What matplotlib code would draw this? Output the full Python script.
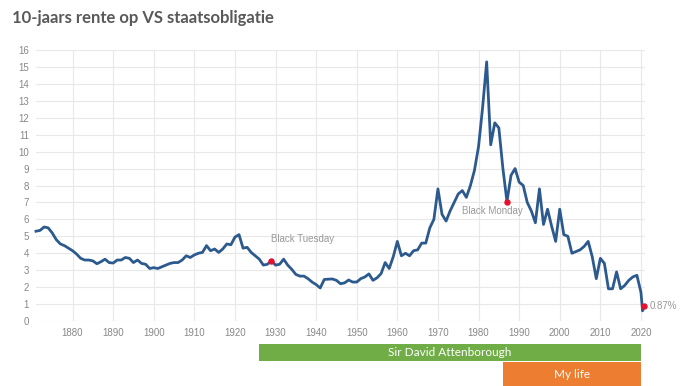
import matplotlib
matplotlib.use("Agg")
import matplotlib.pyplot as plt
import numpy as np

# 10-year US treasury yield, yearly values
years = list(range(1871, 2021)) + [2020.4, 2020.8]
rates = [
    5.3, 5.35, 5.55, 5.5, 5.2, 4.8, 4.55, 4.45, 4.3, 4.15,        # 1871-1880
    3.95, 3.7, 3.6, 3.6, 3.55, 3.38, 3.5, 3.65, 3.45, 3.42,       # 1881-1890
    3.6, 3.6, 3.75, 3.7, 3.45, 3.6, 3.4, 3.35, 3.1, 3.15,         # 1891-1900
    3.1, 3.2, 3.3, 3.4, 3.45, 3.45, 3.6, 3.85, 3.75, 3.9,         # 1901-1910
    4.0, 4.05, 4.45, 4.15, 4.25, 4.05, 4.25, 4.55, 4.5, 4.95,     # 1911-1920
    5.1, 4.3, 4.35, 4.05, 3.85, 3.65, 3.3, 3.35, 3.56, 3.3,       # 1921-1930
    3.35, 3.65, 3.3, 3.05, 2.75, 2.65, 2.65, 2.5, 2.3, 2.15,      # 1931-1940
    1.95, 2.45, 2.47, 2.48, 2.4, 2.2, 2.25, 2.42, 2.3, 2.3,       # 1941-1950
    2.5, 2.6, 2.78, 2.4, 2.55, 2.8, 3.45, 3.1, 3.8, 4.7,          # 1951-1960
    3.85, 4.0, 3.85, 4.15, 4.2, 4.6, 4.6, 5.5, 6.0, 7.8,          # 1961-1970
    6.3, 5.9, 6.5, 7.0, 7.5, 7.7, 7.3, 8.0, 8.9, 10.3,            # 1971-1980
    12.6, 15.3, 10.4, 11.7, 11.4, 9.0, 7.05, 8.6, 9.0, 8.2,       # 1981-1990
    8.0, 7.0, 6.5, 5.8, 7.8, 5.7, 6.6, 5.6, 4.7, 6.6,             # 1991-2000
    5.1, 5.0, 4.0, 4.1, 4.2, 4.4, 4.7, 3.8, 2.5, 3.7,             # 2001-2010
    3.4, 1.9, 1.9, 2.9, 1.9, 2.1, 2.4, 2.6, 2.7, 1.7,             # 2011-2020
    0.6, 0.87,
]

# highlighted events
event_years = [1929, 1987, 2020.8]
event_rates = [3.56, 7.05, 0.87]
event_labels = ["Black Tuesday", "Black Monday", "0.87%"]
label_pos = [(1936.7, 4.84), (1983.4, 6.5), (2022.2, 0.87)]
label_ha = ["center", "center", "left"]

# life spans shown as bars under the chart
people = ["Sir David Attenborough", "My life"]
born = [1926, 1986]
until = [2020, 2020]
bar_colors = ["#70AD47", "#ED7D31"]

W, H = 692, 386
fig = plt.figure(figsize=(W / 100, H / 100), dpi=100)

x0, x1 = 36 / W, 645 / W
ax = fig.add_axes([x0, (H - 321) / H, x1 - x0, (321 - 50) / H])
ax.plot(years, rates, color="#2d5a8e", linewidth=2.0, zorder=3, clip_on=False)
ax.scatter(event_years, event_rates, color="#e8112d", s=13, zorder=4, clip_on=False)
for (lx, ly), txt, ha in zip(label_pos, event_labels, label_ha):
    ax.text(lx, ly, txt, ha=ha, va="center", fontsize=7, color="#999999",
            family="Liberation Sans")

ax.set_xlim(1871, 2021)
ax.set_ylim(0, 16)
ax.set_xticks(range(1880, 2021, 10))
ax.set_yticks(range(0, 17))
ax.grid(True, color="#e8e8e8", linewidth=0.8)
ax.set_axisbelow(True)
for s in ax.spines.values():
    s.set_visible(False)
ax.tick_params(length=0, labelsize=7, labelcolor="#888888", pad=5)
for lbl in ax.get_xticklabels() + ax.get_yticklabels():
    lbl.set_family("Liberation Sans")

fig.text(12 / W, 1 - 18 / H, "10-jaars rente op VS staatsobligatie", ha="left",
         va="center", fontsize=12, fontweight="bold", color="#595959", family="Lato")

# bars below the chart
bax = fig.add_axes([x0, 0, x1 - x0, 41.7 / H])
bax.set_xlim(1871, 2021)
bax.set_ylim(0, 41.7)
bar_y = [25.3, 0]
bar_h = [16.4, 23.7]
for name, b, u, c, y, h in zip(people, born, until, bar_colors, bar_y, bar_h):
    bax.barh(y, u - b, left=b, height=h, align="edge", color=c)
    bax.text((b + u) / 2, y + h / 2, name, ha="center", va="center",
             color="white", fontsize=8.5, family="Lato")
bax.axis("off")

fig.savefig("out.png", dpi=100)
